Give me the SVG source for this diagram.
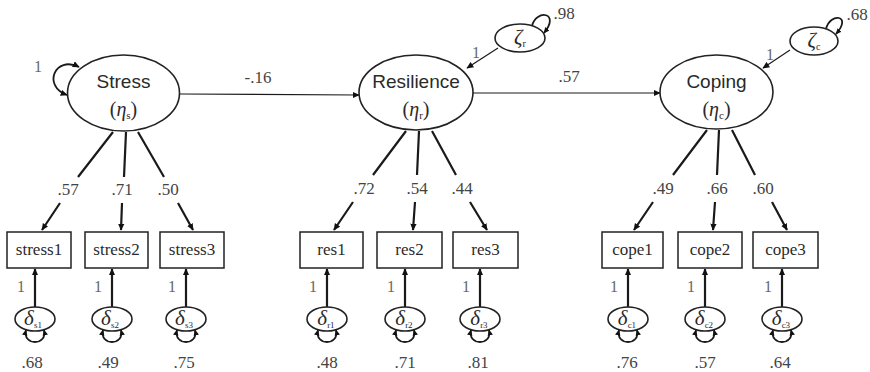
<svg xmlns="http://www.w3.org/2000/svg" width="870" height="372" viewBox="0 0 870 372">
<defs>
<marker id="ah" viewBox="0 0 10 10" refX="9" refY="5" markerWidth="7" markerHeight="7" markerUnits="userSpaceOnUse" orient="auto-start-reverse">
<path d="M0,0.5 L10,5 L0,9.5 Z" fill="#111"/>
</marker>
<marker id="ahs" viewBox="0 0 10 10" refX="9" refY="5" markerWidth="6" markerHeight="6" markerUnits="userSpaceOnUse" orient="auto-start-reverse">
<path d="M0,0.5 L10,5 L0,9.5 Z" fill="#111"/>
</marker>
</defs>
<style>
.lat{fill:#fff;stroke:#222;stroke-width:1.6}
.box{fill:#fff;stroke:#222;stroke-width:1.5}
.err{fill:#fff;stroke:#222;stroke-width:1.6}
.sans{font-family:"Liberation Sans",Arial,sans-serif;font-size:19px;fill:#2a2a2a;text-anchor:middle}
.ser{font-family:"Liberation Serif","Times New Roman",serif;font-size:20px;fill:#2a2a2a;text-anchor:middle}
.obs{font-family:"Liberation Serif","Times New Roman",serif;font-size:17px;fill:#2a2a2a;text-anchor:middle}
.num{font-family:"Liberation Serif","Times New Roman",serif;font-size:17px;fill:#444;text-anchor:middle}
.one{font-family:"Liberation Serif","Times New Roman",serif;font-size:16px;fill:#666;text-anchor:middle}
.gr{font-family:"Liberation Serif","Times New Roman",serif;font-size:21px;font-style:italic;fill:#2a2a2a;text-anchor:middle}
.ld{fill:none;stroke:#1a1a1a;stroke-width:2.2}
.st{fill:none;stroke:#1a1a1a;stroke-width:1.2}
.lp{fill:none;stroke:#1a1a1a;stroke-width:1.8}
</style>
<rect width="870" height="372" fill="#fff"/>

<g id="connectors">
<path class="st" d="M180,94 L359,95" marker-end="url(#ah)"/>
<path class="st" d="M473,93 L660,93" marker-end="url(#ah)"/>
<path class="st" d="M498,48 L467,68" marker-end="url(#ah)"/>
<path class="st" d="M790,50 L763,68" marker-end="url(#ah)"/>
<path class="lp" d="M79,67 C55,55 42,86 67,95" marker-start="url(#ah)" marker-end="url(#ah)"/>
<path class="lp" d="M532,26 C536,9 561,12 544,33" marker-end="url(#ahs)"/>
<path class="lp" d="M826,29 C830,12 853,15 836,34" marker-end="url(#ahs)"/>
<path class="ld" d="M113,132 L78,177 M60,203 L42,230" marker-end="url(#ah)"/>
<path class="ld" d="M126,132 L124,177 M122,203 L121,230" marker-end="url(#ah)"/>
<path class="ld" d="M138,132 L164,177 M178,203 L193,230" marker-end="url(#ah)"/>
<path class="ld" d="M406,131 L373,175 M353,202 L334,230" marker-end="url(#ah)"/>
<path class="ld" d="M419,131 L417,175 M415,202 L413,230" marker-end="url(#ah)"/>
<path class="ld" d="M432,131 L456,175 M470,202 L487,230" marker-end="url(#ah)"/>
<path class="ld" d="M707,130 L673,175 M653,202 L634,230" marker-end="url(#ah)"/>
<path class="ld" d="M719,130 L717,175 M715,202 L713,230" marker-end="url(#ah)"/>
<path class="ld" d="M732,130 L755,175 M772,202 L787,230" marker-end="url(#ah)"/>
<path class="ld" d="M35,307 L35,269" marker-end="url(#ah)"/>
<path class="ld" d="M112,307 L112,269" marker-end="url(#ah)"/>
<path class="ld" d="M186,307 L186,269" marker-end="url(#ah)"/>
<path class="ld" d="M327,307 L327,269" marker-end="url(#ah)"/>
<path class="ld" d="M405,307 L405,269" marker-end="url(#ah)"/>
<path class="ld" d="M480,307 L480,269" marker-end="url(#ah)"/>
<path class="ld" d="M628,307 L628,269" marker-end="url(#ah)"/>
<path class="ld" d="M705,307 L705,269" marker-end="url(#ah)"/>
<path class="ld" d="M782,307 L782,269" marker-end="url(#ah)"/>
<path class="lp" d="M26,330 C22,346 48,346 44,330" marker-start="url(#ahs)" marker-end="url(#ahs)"/>
<path class="lp" d="M103,330 C99,346 125,346 121,330" marker-start="url(#ahs)" marker-end="url(#ahs)"/>
<path class="lp" d="M177,330 C173,346 199,346 195,330" marker-start="url(#ahs)" marker-end="url(#ahs)"/>
<path class="lp" d="M318,330 C314,346 340,346 336,330" marker-start="url(#ahs)" marker-end="url(#ahs)"/>
<path class="lp" d="M396,330 C392,346 418,346 414,330" marker-start="url(#ahs)" marker-end="url(#ahs)"/>
<path class="lp" d="M471,330 C467,346 493,346 489,330" marker-start="url(#ahs)" marker-end="url(#ahs)"/>
<path class="lp" d="M619,330 C615,346 641,346 637,330" marker-start="url(#ahs)" marker-end="url(#ahs)"/>
<path class="lp" d="M696,330 C692,346 718,346 714,330" marker-start="url(#ahs)" marker-end="url(#ahs)"/>
<path class="lp" d="M773,330 C769,346 795,346 791,330" marker-start="url(#ahs)" marker-end="url(#ahs)"/>
<text class="num" x="258" y="83">-.16</text>
<text class="num" x="569" y="82">.57</text>
<text class="one" x="38" y="72">1</text>
<text class="one" x="476" y="58">1</text>
<text class="one" x="770" y="60">1</text>
<text class="num" x="564" y="19">.98</text>
<text class="num" x="857" y="20">.68</text>
<text class="num" x="68" y="195">.57</text>
<text class="num" x="122" y="195">.71</text>
<text class="num" x="168" y="195">.50</text>
<text class="num" x="364" y="194">.72</text>
<text class="num" x="417" y="194">.54</text>
<text class="num" x="462" y="194">.44</text>
<text class="num" x="663" y="194">.49</text>
<text class="num" x="717" y="194">.66</text>
<text class="num" x="763" y="194">.60</text>
<text class="one" x="21" y="292">1</text>
<text class="one" x="98" y="292">1</text>
<text class="one" x="172" y="292">1</text>
<text class="one" x="313" y="292">1</text>
<text class="one" x="391" y="292">1</text>
<text class="one" x="466" y="292">1</text>
<text class="one" x="614" y="292">1</text>
<text class="one" x="691" y="292">1</text>
<text class="one" x="768" y="292">1</text>
<text class="num" x="32" y="368">.68</text>
<text class="num" x="108" y="368">.49</text>
<text class="num" x="184" y="368">.75</text>
<text class="num" x="327" y="368">.48</text>
<text class="num" x="405" y="368">.71</text>
<text class="num" x="478" y="368">.81</text>
<text class="num" x="627" y="368">.76</text>
<text class="num" x="705" y="368">.57</text>
<text class="num" x="780" y="368">.64</text>
</g>

<g id="stress">
<ellipse class="lat" cx="123.5" cy="93" rx="56" ry="38"/>
<text class="sans" x="123.5" y="88">Stress</text>
<text class="ser" x="123.5" y="116">(<tspan font-style="italic">η</tspan><tspan font-size="11" dy="3">s</tspan><tspan dy="-3">)</tspan></text>
</g>
<g id="resilience">
<ellipse class="lat" cx="416" cy="92.5" rx="57" ry="37.5"/>
<text class="sans" x="416" y="88">Resilience</text>
<text class="ser" x="416" y="116">(<tspan font-style="italic">η</tspan><tspan font-size="11" dy="3">r</tspan><tspan dy="-3">)</tspan></text>
</g>
<g id="coping">
<ellipse class="lat" cx="716.5" cy="92" rx="56.5" ry="37"/>
<text class="sans" x="716.5" y="88">Coping</text>
<text class="ser" x="716.5" y="116">(<tspan font-style="italic">η</tspan><tspan font-size="11" dy="3">c</tspan><tspan dy="-3">)</tspan></text>
</g>
<g id="zeta_r">
<ellipse class="err" cx="520" cy="38" rx="25" ry="14"/>
<text class="gr" x="520" y="44">ζ<tspan font-size="10" font-style="normal" dy="3">r</tspan></text>
</g>
<g id="zeta_c">
<ellipse class="err" cx="814" cy="41" rx="24" ry="14"/>
<text class="gr" x="814" y="47">ζ<tspan font-size="10" font-style="normal" dy="3">c</tspan></text>
</g>

<g id="stress1"><rect class="box" x="7" y="232" width="64" height="36"/><text class="obs" x="39" y="255">stress1</text></g>
<g id="stress2"><rect class="box" x="85" y="232" width="63" height="36"/><text class="obs" x="116.5" y="255">stress2</text></g>
<g id="stress3"><rect class="box" x="160" y="232" width="64" height="36"/><text class="obs" x="192" y="255">stress3</text></g>
<g id="res1"><rect class="box" x="300" y="232" width="63" height="36"/><text class="obs" x="331.5" y="255">res1</text></g>
<g id="res2"><rect class="box" x="377" y="232" width="65" height="36"/><text class="obs" x="409.5" y="255">res2</text></g>
<g id="res3"><rect class="box" x="453" y="232" width="65" height="36"/><text class="obs" x="485.5" y="255">res3</text></g>
<g id="cope1"><rect class="box" x="602" y="232" width="61" height="36"/><text class="obs" x="632.5" y="255">cope1</text></g>
<g id="cope2"><rect class="box" x="678" y="232" width="64" height="36"/><text class="obs" x="710" y="255">cope2</text></g>
<g id="cope3"><rect class="box" x="753" y="232" width="65" height="36"/><text class="obs" x="785.5" y="255">cope3</text></g>

<g id="d_s1"><ellipse class="err" cx="35" cy="319" rx="20" ry="12"/><text class="gr" x="33" y="325">δ<tspan font-size="9" font-style="normal" dy="3">s1</tspan></text></g>
<g id="d_s2"><ellipse class="err" cx="112" cy="319" rx="20" ry="12"/><text class="gr" x="110" y="325">δ<tspan font-size="9" font-style="normal" dy="3">s2</tspan></text></g>
<g id="d_s3"><ellipse class="err" cx="186" cy="319" rx="20" ry="12"/><text class="gr" x="184" y="325">δ<tspan font-size="9" font-style="normal" dy="3">s3</tspan></text></g>
<g id="d_r1"><ellipse class="err" cx="327" cy="319" rx="20" ry="12"/><text class="gr" x="326" y="325">δ<tspan font-size="9" font-style="normal" dy="3">r1</tspan></text></g>
<g id="d_r2"><ellipse class="err" cx="405" cy="319" rx="20" ry="12"/><text class="gr" x="404" y="325">δ<tspan font-size="9" font-style="normal" dy="3">r2</tspan></text></g>
<g id="d_r3"><ellipse class="err" cx="480" cy="319" rx="20" ry="12"/><text class="gr" x="479" y="325">δ<tspan font-size="9" font-style="normal" dy="3">r3</tspan></text></g>
<g id="d_c1"><ellipse class="err" cx="628" cy="319" rx="20" ry="12"/><text class="gr" x="627" y="325">δ<tspan font-size="9" font-style="normal" dy="3">c1</tspan></text></g>
<g id="d_c2"><ellipse class="err" cx="705" cy="319" rx="20" ry="12"/><text class="gr" x="704" y="325">δ<tspan font-size="9" font-style="normal" dy="3">c2</tspan></text></g>
<g id="d_c3"><ellipse class="err" cx="782" cy="319" rx="20" ry="12"/><text class="gr" x="781" y="325">δ<tspan font-size="9" font-style="normal" dy="3">c3</tspan></text></g>
</svg>
